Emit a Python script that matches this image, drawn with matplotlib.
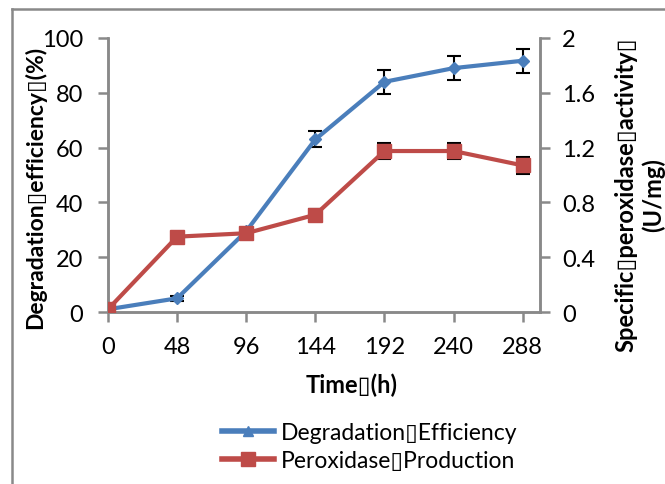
import matplotlib
matplotlib.use("Agg")
import matplotlib.pyplot as plt
from matplotlib.lines import Line2D

plt.rcParams['font.family'] = ['Lato', 'DejaVu Sans']

# data
time_h = [0, 48, 96, 144, 192, 240, 288]
degradation = [1.0, 5.0, 29.5, 63.0, 84.0, 89.0, 91.7]
degradation_err = [0.5, 1.0, 1.0, 2.9, 4.4, 4.4, 4.3]
peroxidase = [0.02, 0.55, 0.575, 0.71, 1.175, 1.175, 1.07]
peroxidase_err = [0.01, 0.02, 0.03, 0.04, 0.058, 0.058, 0.06]
q = "\u25af"  # stands in for the unrenderable glyph of the original

blue = "#4a7ebb"
red = "#be4b48"
grey = "#898989"

fig = plt.figure(figsize=(6.65, 4.85), dpi=100)
ax = fig.add_axes([0.1624, 0.3546, 0.6496, 0.565])
ax2 = ax.twinx()

ax.errorbar(time_h, degradation, yerr=degradation_err, color=blue, lw=3,
            marker="D", ms=6, ecolor="black", elinewidth=1.5, capsize=5,
            capthick=1.5, zorder=3)
ax2.errorbar(time_h, peroxidase, yerr=peroxidase_err, color=red, lw=3,
             marker="s", ms=10, ecolor="black", elinewidth=1.5, capsize=5,
             capthick=1.5, zorder=3)

ax.set_xlim(0, 300)
ax.set_ylim(0, 100)
ax2.set_ylim(0, 2)
ax.set_xticks(time_h)
ax.set_yticks(range(0, 101, 20))
ax2.set_yticks([0, 0.4, 0.8, 1.2, 1.6, 2])
ax2.set_yticklabels(["0", "0.4", "0.8", "1.2", "1.6", "2"])

for a in (ax, ax2):
    a.spines["top"].set_visible(False)
    for s in ("left", "right", "bottom"):
        a.spines[s].set_color(grey)
        a.spines[s].set_linewidth(1.8)
    a.tick_params(colors=grey, width=1.8, length=7, labelsize=17,
                  labelcolor="black")
ax.tick_params(axis="y", pad=11)
ax.tick_params(axis="x", pad=10)
ax2.tick_params(axis="y", pad=9)

fig.text(0.053, 0.613, f"Degradation{q}efficiency{q}(%)", rotation=90,
         ha="center", va="center", fontsize=16.5, fontweight="bold")
fig.text(0.962, 0.598, f"Specific{q}peroxidase{q}activity{q}\n(U/mg)",
         rotation=90, ha="center", va="center", fontsize=17,
         fontweight="bold", linespacing=1.25)
fig.text(0.529, 0.206, f"Time{q}(h)", ha="center", va="center",
         fontsize=17, fontweight="bold")

handles = [
    Line2D([], [], color=blue, lw=4, marker="^", ms=7),
    Line2D([], [], color=red, lw=4, marker="s", ms=10),
]
fig.legend(handles, [f"Degradation{q}Efficiency", f"Peroxidase{q}Production"],
           loc="center left", bbox_to_anchor=(0.316, 0.077), frameon=False,
           fontsize=16.5, handlelength=2.3, handletextpad=0.3,
           labelspacing=0.3, borderpad=0)

# chart area border
fig.add_artist(Line2D([12 / 665, 12 / 665], [0, 1 - 10 / 485],
                      transform=fig.transFigure, color=grey, lw=1.8))
fig.add_artist(Line2D([12 / 665, 1], [1 - 10 / 485, 1 - 10 / 485],
                      transform=fig.transFigure, color=grey, lw=1.8))

fig.savefig("out.png", dpi=100)
